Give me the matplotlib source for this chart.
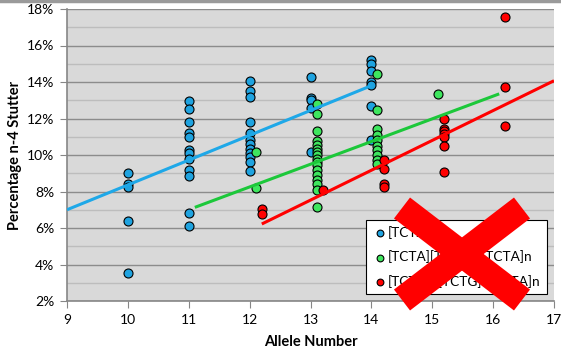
import matplotlib
matplotlib.use("Agg")
import matplotlib.pyplot as plt
from matplotlib.lines import Line2D
from matplotlib.ticker import MultipleLocator, FuncFormatter

# Series (allele number, percentage n-4 stutter)
blue_allele = [10] * 5 + [11] * 12 + [12] * 12 + [13] * 5 + [14] * 7
blue_pct = [9.0, 8.4, 8.25, 6.4, 3.55,
            12.95, 12.5, 11.8, 11.2, 11.0, 10.3, 10.1, 9.8, 9.2, 8.85, 6.8, 6.1,
            14.05, 13.5, 13.2, 11.8, 11.2, 10.8, 10.6, 10.35, 10.1, 9.9, 9.6, 9.1,
            14.25, 13.15, 13.0, 12.6, 10.15,
            15.2, 15.0, 14.6, 14.0, 13.85, 12.7, 10.8]

green_allele = [12.1] * 2 + [13.1] * 17 + [14.1] * 10 + [15.1]
green_pct = [10.15, 8.2,
             12.8, 12.25, 11.3, 10.75, 10.55, 10.35, 10.15, 10.0, 9.8, 9.6, 9.45, 9.2, 8.9, 8.65, 8.4, 8.1, 7.15,
             14.45, 12.45, 11.4, 11.1, 10.8, 10.5, 10.25, 10.0, 9.7, 9.5,
             13.35]

red_allele = [12.2] * 2 + [13.2] + [14.2] * 4 + [15.2] * 7 + [16.2] * 3
red_pct = [7.05, 6.75,
           8.1,
           9.7, 9.25, 8.4, 8.25,
           12.0, 11.45, 11.3, 11.15, 11.0, 10.5, 9.05,
           17.55, 13.7, 11.6]

# trend line end points
blue_trend_x, blue_trend_y = [9, 14], [7.0, 13.8]
green_trend_x, green_trend_y = [11.1, 16.1], [7.13, 13.35]
red_trend_x, red_trend_y = [12.2, 17], [6.22, 14.07]

labels = ["[TCTA]n", "[TCTA][TCTG]n[TCTA]n", "[TCTA]2[TCTG]n[TCTA]n"]

plt.rcParams["font.family"] = ["Lato", "DejaVu Sans"]

fig = plt.figure(figsize=(5.61, 3.49), dpi=100)
ax = fig.add_axes([67 / 561, 1 - 301 / 349, 487 / 561, 292 / 349])
ax.set_facecolor("#D9D9D9")

ax.set_xlim(9, 17)
ax.set_ylim(2, 18)
ax.xaxis.set_major_locator(MultipleLocator(1))
ax.yaxis.set_major_locator(MultipleLocator(2))
ax.yaxis.set_minor_locator(MultipleLocator(1))
ax.yaxis.set_major_formatter(FuncFormatter(lambda v, p: f"{v:.0f}%"))
ax.grid(axis="y", which="major", color="#8C8C8C", lw=1.0)
ax.grid(axis="y", which="minor", color="#BDBDBD", lw=1.0)
ax.set_axisbelow(True)

for s in ["top", "right"]:
    ax.spines[s].set_visible(False)
for s in ["left", "bottom"]:
    ax.spines[s].set_color("#868686")
    ax.spines[s].set_linewidth(1.2)
ax.tick_params(which="major", direction="out", length=5, color="#868686", labelsize=10, pad=4)
ax.tick_params(which="minor", length=0)

mk = dict(marker="o", s=42, edgecolors="black", linewidths=0.8, zorder=3)
ax.scatter(blue_allele, blue_pct, color="#1FA3E0", label=labels[0], **mk)
ax.scatter(green_allele, green_pct, color="#3EE65E", label=labels[1], **mk)
ax.scatter(red_allele, red_pct, color="#FF0000", label=labels[2], **mk)

ax.plot(blue_trend_x, blue_trend_y, color="#1EA8E8", lw=2.2, zorder=4, solid_capstyle="butt")
ax.plot(green_trend_x, green_trend_y, color="#1CC83A", lw=2.2, zorder=4, solid_capstyle="butt")
ax.plot(red_trend_x, red_trend_y, color="#FF0000", lw=2.2, zorder=4, solid_capstyle="butt")

ax.set_xlabel("Allele Number", fontsize=10.5, fontweight="bold", labelpad=7)
ax.set_ylabel("Percentage n-4 Stutter", fontsize=10.5, fontweight="bold", labelpad=4)

leg = ax.legend(loc="lower right", bbox_to_anchor=(0.9856, 0.024), fontsize=9.8,
                frameon=True, fancybox=False, edgecolor="black", facecolor="white",
                framealpha=1, handletextpad=0.05, borderpad=0.45, labelspacing=0.85,
                handlelength=1.1, borderaxespad=0, markerscale=0.75)
leg.get_frame().set_linewidth(0.8)
leg.set_zorder(5)

# big red cross drawn over the legend
def px(x, y):
    return x / 561, 1 - y / 349

for (x0, y0), (x1, y1) in [((402, 208), (522, 300)), ((522, 208), (402, 300))]:
    a, b = px(x0, y0)
    c, d = px(x1, y1)
    fig.add_artist(Line2D([a, c], [b, d], color="#FF0000", lw=19, solid_capstyle="butt", zorder=10))

# top border of the chart frame
fig.add_artist(Line2D([0, 1], [1 - 1 / 349, 1 - 1 / 349], color="#9A9A9A", lw=2.5))

fig.savefig("out.png", dpi=100)
